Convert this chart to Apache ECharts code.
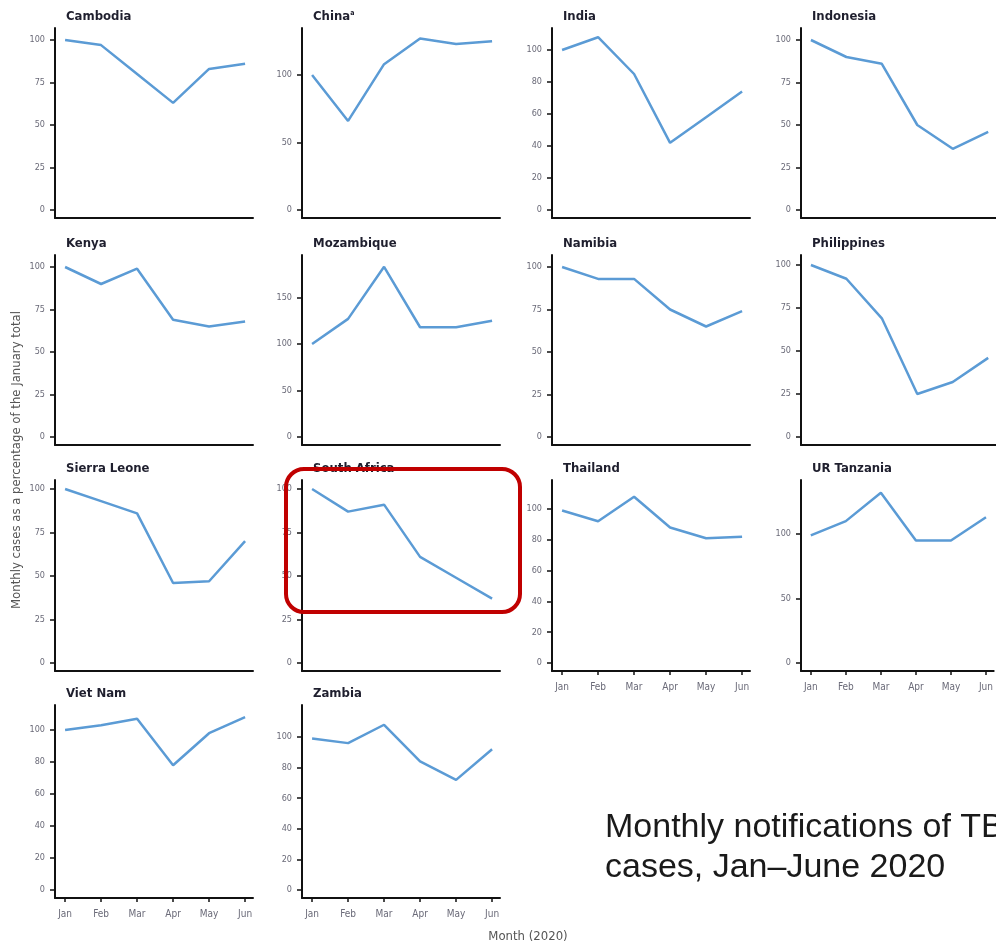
<!DOCTYPE html>
<html>
<head>
<meta charset="utf-8">
<script src="https://cdn.jsdelivr.net/npm/echarts@6/dist/echarts.min.js"></script>
<style>html,body{margin:0;padding:0;background:#fff}#c{width:996px;height:946px}</style>
</head>
<body>
<div id="c"></div>
<script>
// ---- data ----
const months = ['Jan', 'Feb', 'Mar', 'Apr', 'May', 'Jun'];
const countries = ['Cambodia', 'China', 'India', 'Indonesia', 'Kenya', 'Mozambique', 'Namibia',
  'Philippines', 'Sierra Leone', 'South Africa', 'Thailand', 'UR Tanzania', 'Viet Nam', 'Zambia'];
const cambodia = [100, 97, 80, 63, 83, 86];
const china = [100, 66, 108, 127, 123, 125];
const india = [100, 108, 85, 42, 58, 74];
const indonesia = [100, 90, 86, 50, 36, 46];
const kenya = [100, 90, 99, 69, 65, 68];
const mozambique = [100, 127, 183, 118, 118, 125];
const namibia = [100, 93, 93, 75, 65, 74];
const philippines = [100, 92, 69, 25, 32, 46];
const sierraLeone = [100, 93, 86, 46, 47, 70];
const southAfrica = [100, 87, 91, 61, 49, 37];
const thailand = [99, 92, 108, 88, 81, 82];
const tanzania = [99, 110, 132, 95, 95, 113];
const vietNam = [100, 103, 107, 78, 98, 108];
const zambia = [99, 96, 108, 84, 72, 92];
const seriesValues = [cambodia, china, india, indonesia, kenya, mozambique, namibia,
  philippines, sierraLeone, southAfrica, thailand, tanzania, vietNam, zambia];
const ticks25 = [0, 25, 50, 75, 100];
const ticks20 = [0, 20, 40, 60, 80, 100];
const ticks50 = [0, 50, 100];
const ticksMoz = [0, 50, 100, 150];
const yTicks = [ticks25, ticks50, ticks20, ticks25, ticks25, ticksMoz, ticks25,
  ticks25, ticks25, ticks25, ticks20, ticks50, ticks20, ticks20];
const xAxisTitle = 'Month (2020)';
const yAxisTitle = 'Monthly cases as a percentage of the January total';
const noteLines = ['Monthly notifications of TB', 'cases, Jan\u2013June 2020'];

// ---- layout ----
const colLeft = [55, 302, 552, 801];
const rowTop = [28, 255, 480, 705];
const rowBottom = [218, 445, 671, 898];
const plotW = 198;
// pixel position of the 0 and 100 value in each panel (scale)
const zeroPx = [210, 210, 210, 210, 437, 437, 437, 437, 663, 663, 663, 663, 890, 890];
const hundredPx = [40, 75, 50, 40, 267, 344, 267, 265, 489, 489, 509, 534, 730, 737];

const FONT = "'Liberation Sans Narrow', 'DejaVu Sans Condensed', 'Liberation Sans', sans-serif";
const LINE = '#5b9bd5';
const idxVals = [0, 1, 2, 3, 4, 5];

const titles = [], grids = [], xAxes = [], yAxes = [], series = [];
countries.forEach((name, i) => {
  const r = Math.floor(i / 4), c = i % 4;
  const top = rowTop[r], bottom = rowBottom[r], left = colLeft[c];
  const ppu = (zeroPx[i] - hundredPx[i]) / 100;
  const yMax = (zeroPx[i] - top) / ppu;
  const yMin = -(bottom - zeroPx[i]) / ppu;
  const showX = (r === 3) || (r === 2 && c >= 2);
  titles.push({
    text: name === 'China' ? 'China{sup|a}' : name,
    left: left + 6, top: top - 23,
    textStyle: {
      fontFamily: FONT, fontWeight: 'bold', fontSize: 13, color: '#1f1f2e',
      rich: { sup: { fontSize: 7, fontWeight: 'bold', color: '#1f1f2e', verticalAlign: 'top', padding: [0, 0, 6, 0] } }
    }
  });
  grids.push({ left: left, top: top, width: plotW, height: bottom - top });
  xAxes.push({
    gridIndex: i, type: 'value', min: -0.28, max: 5.22,
    axisLine: { show: true, onZero: false, lineStyle: { color: '#111', width: 2 } },
    axisTick: { show: showX, customValues: idxVals, length: 4, lineStyle: { color: '#111', width: 1.5 } },
    axisLabel: { show: showX, customValues: idxVals, formatter: v => months[Math.round(v)],
      fontFamily: FONT, fontSize: 10, color: '#6a6a78', margin: 11 },
    splitLine: { show: false }
  });
  yAxes.push({
    gridIndex: i, type: 'value', min: yMin, max: yMax,
    axisLine: { show: true, onZero: false, lineStyle: { color: '#111', width: 2 } },
    axisTick: { show: true, customValues: yTicks[i], length: 5, lineStyle: { color: '#111', width: 1.5 } },
    axisLabel: { show: true, customValues: yTicks[i], fontFamily: FONT, fontSize: 9, color: '#6a6a78', margin: 10 },
    splitLine: { show: false }
  });
  series.push({
    type: 'line', xAxisIndex: i, yAxisIndex: i,
    data: seriesValues[i].map((v, k) => [k, v]),
    showSymbol: false, symbol: 'none',
    lineStyle: { color: LINE, width: 2.5 }
  });
});

const chart = echarts.init(document.getElementById('c'), null, { renderer: 'canvas' });
chart.setOption({
  animation: false,
  backgroundColor: '#ffffff',
  title: titles,
  grid: grids,
  xAxis: xAxes,
  yAxis: yAxes,
  series: series,
  graphic: [
    { type: 'text', x: 17, y: 460, rotation: Math.PI / 2, z: 10,
      style: { text: yAxisTitle, fontFamily: FONT, fontSize: 13, fill: '#555', align: 'center', verticalAlign: 'middle' } },
    { type: 'text', x: 528, y: 937, z: 10,
      style: { text: xAxisTitle, fontFamily: FONT, fontSize: 13, fill: '#555', align: 'center', verticalAlign: 'middle' } },
    { type: 'text', x: 605, y: 828, z: 10,
      style: { text: noteLines[0], fontFamily: "'Liberation Sans', Arial, sans-serif", fontSize: 34, fill: '#1a1a1a', align: 'left', verticalAlign: 'middle' } },
    { type: 'text', x: 605, y: 868, z: 10,
      style: { text: noteLines[1], fontFamily: "'Liberation Sans', Arial, sans-serif", fontSize: 34, fill: '#1a1a1a', align: 'left', verticalAlign: 'middle' } },
    { type: 'rect', z: 100,
      shape: { x: 286, y: 469, width: 234, height: 143, r: 18 },
      style: { fill: 'none', stroke: '#c00000', lineWidth: 4 } }
  ]
});
</script>
</body>
</html>
